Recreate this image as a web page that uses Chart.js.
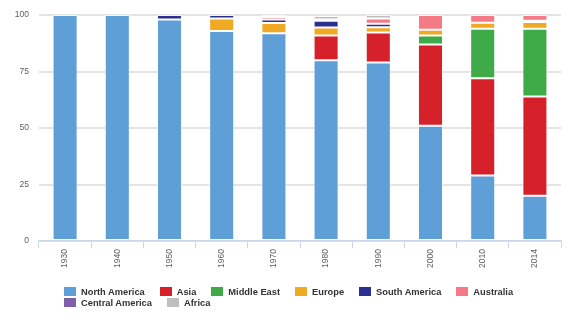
<!DOCTYPE html>
<html>
<head>
<meta charset="utf-8">
<script src="https://cdn.jsdelivr.net/npm/chart.js@4/dist/chart.umd.min.js"></script>
<style>
    body { margin: 0; background: #fff; }
    #wrap { position: relative; width: 570px; height: 327px; }
    #legend {
        position: absolute; left: 64px; top: 286px; width: 470px;
        display: flex; flex-wrap: wrap;
        font: bold 9.3px "Liberation Sans", Arial, sans-serif; color: #333;
    }
    .legend-item { display: flex; align-items: center; height: 11px; margin-right: 15px; white-space: nowrap; }
    .legend-box { width: 12px; height: 9px; margin-right: 5px; }
</style>
</head>
<body>
<div id="wrap">
    <canvas id="chart" width="570" height="327"></canvas>
    <div id="legend"></div>
</div>
<script>
// Categories
const years = ["1930", "1940", "1950", "1960", "1970", "1980", "1990", "2000", "2010", "2014"];

// Share per region (%)
const northAmerica   = [100, 100, 98, 93, 92, 80, 79, 51, 29, 20];
const asia           = [null, null, null, null, null, 11, 13.3, 36, 43, 44];
const middleEast     = [null, null, null, null, null, null, null, 4, 22, 30];
const europe         = [null, null, null, 5.5, 4.5, 3.5, 2.3, 2.5, 2.6, 2.9];
const southAmerica   = [null, null, 2, 1.5, 1.5, 3, 1.6, null, null, 0.6];
const australia      = [null, null, null, null, 1.2, 0.6, 2.3, 6.5, 3.4, 2.5];
const centralAmerica = [null, null, null, null, 0.8, null, null, null, null, null];
const africa         = [null, null, null, null, null, 1.5, 1.5, null, null, null];

const yTicks = [0, 25, 50, 75, 100];

const series = [
    { label: "North America", data: northAmerica, color: "#5f9fd7" },
    { label: "Asia", data: asia, color: "#d6202a" },
    { label: "Middle East", data: middleEast, color: "#3fab48" },
    { label: "Europe", data: europe, color: "#f0a922" },
    { label: "South America", data: southAmerica, color: "#2b3192" },
    { label: "Australia", data: australia, color: "#f47b86" },
    { label: "Central America", data: centralAmerica, color: "#7f5fa7" },
    { label: "Africa", data: africa, color: "#bfbfbf" }
];

document.addEventListener("DOMContentLoaded", () => {
    const ctx = document.getElementById("chart").getContext("2d");
    const legendEl = document.getElementById("legend");

    // HTML legend so the second row stays left aligned like the original
    const htmlLegend = {
        id: "htmlLegend",
        afterUpdate(chart) {
            legendEl.innerHTML = "";
            chart.options.plugins.legend.labels.generateLabels(chart).forEach(item => {
                const div = document.createElement("div");
                div.className = "legend-item";
                div.innerHTML = `<span class="legend-box" style="background:${item.fillStyle}"></span>${item.text}`;
                legendEl.appendChild(div);
            });
        }
    };

    new Chart(ctx, {
        type: "bar",
        data: {
            labels: years,
            datasets: series.map(s => ({
                label: s.label,
                data: s.data,
                backgroundColor: s.color,
                borderColor: "rgba(255,255,255,0.7)",
                borderWidth: 1,
                borderSkipped: false,
                barPercentage: 0.48,
                categoryPercentage: 1
            }))
        },
        options: {
            responsive: false,
            animation: false,
            layout: { padding: { left: 0, right: 9, top: 13, bottom: 0 } },
            plugins: {
                legend: { display: false },
                tooltip: { enabled: false }
            },
            scales: {
                x: {
                    stacked: true,
                    afterFit: axis => { axis.height = 86; },
                    grid: { offset: true, drawOnChartArea: false, color: "#ccd6eb", tickLength: 7, lineWidth: 1 },
                    border: { color: "#ccd6eb", width: 1.5 },
                    ticks: {
                        minRotation: 90, maxRotation: 90, padding: 1,
                        color: "#606060",
                        font: { family: "Liberation Sans", size: 8.5 }
                    }
                },
                y: {
                    stacked: true,
                    min: 0,
                    max: 100,
                    afterFit: axis => { axis.width = 39; },
                    afterBuildTicks: axis => { axis.ticks = yTicks.map(v => ({ value: v })); },
                    grid: { color: "#e4e4e4", lineWidth: 2, drawTicks: false },
                    border: { display: false },
                    ticks: {
                        padding: 10,
                        color: "#606060",
                        font: { family: "Liberation Sans", size: 8.5 }
                    }
                }
            }
        },
        plugins: [htmlLegend]
    });
});
</script>
</body>
</html>
